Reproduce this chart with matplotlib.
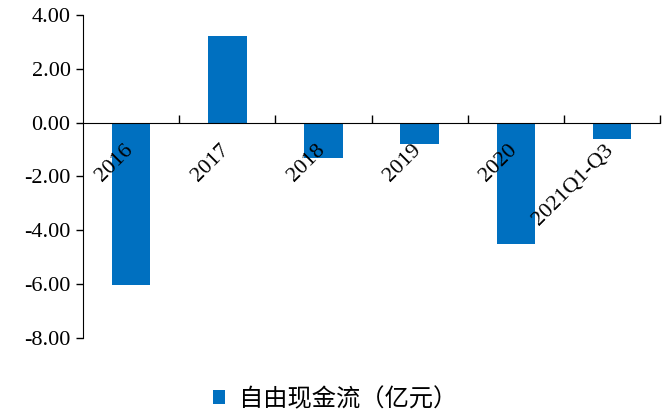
import numpy as np
import matplotlib.pyplot as plt
from matplotlib.ticker import FixedLocator, FuncFormatter

# 自由现金流数据（亿元）
categories = ['2016', '2017', '2018', '2019', '2020', '2021Q1-Q3']
values = [-6.02, 3.20, -1.30, -0.78, -4.52, -0.60]

plt.rcParams['font.family'] = ['Liberation Serif', 'Noto Sans CJK SC']

fig = plt.figure(figsize=(6.7, 4.13), dpi=100)
ax = fig.add_axes([0.124, 0.182, 0.861, 0.782])

x = np.arange(len(categories))
bars = ax.bar(x, values, width=0.4, color='#0070C0', label='自由现金流（亿元）')

ax.set_xlim(-0.5, len(categories) - 0.5)
ax.set_ylim(-8, 4)
ax.set_yticks(np.arange(-8, 5, 2))
ax.yaxis.set_major_formatter(FuncFormatter(lambda v, p: f'{v:.2f}'))
ax.tick_params(axis='y', direction='out', length=5, width=1, labelsize=16, pad=4)

# x轴放在0处
ax.spines['bottom'].set_position(('data', 0))
ax.spines['top'].set_visible(False)
ax.spines['right'].set_visible(False)
ax.set_xticks([])
ax.xaxis.set_minor_locator(FixedLocator(np.arange(0.5, len(categories), 1)))
ax.tick_params(axis='x', which='minor', direction='in', length=6, width=1)

# 类别标签
for i, c in enumerate(categories):
    ax.text(i + 0.06, -0.67, c, rotation=45, ha='right', va='top', fontsize=16)

fig.legend(handles=[bars], labels=['自由现金流（亿元）'], loc='center',
           bbox_to_anchor=(0.5, 14 / 413), frameon=False, handlelength=0.5, handleheight=0.5,
           handletextpad=0.55, prop={'family': 'Noto Sans CJK SC', 'size': 17.5})

fig.savefig('out.png', dpi=100)
